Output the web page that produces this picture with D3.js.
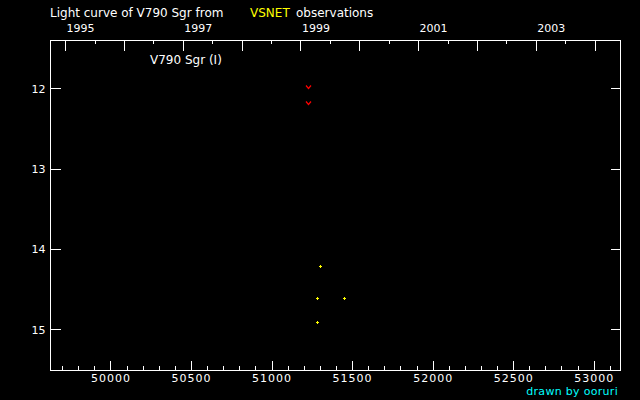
<!DOCTYPE html>
<html>
<head>
<meta charset="utf-8">
<script src="https://cdn.jsdelivr.net/npm/d3@7"></script>
<style>
  html, body { margin: 0; padding: 0; background: #000; }
  svg { display: block; }
  text { font-family: "DejaVu Sans", sans-serif; }
</style>
</head>
<body>
<svg id="chart" width="640" height="400"></svg>
<script>
// ---- data (JD - 2400000, magnitude) ----
const obsJD  = [51304, 51285, 51453, 51285];
const obsMag = [14.22, 14.61, 14.61, 14.91];
const limJD  = [51229, 51229];          // fainter-than observations
const limMag = [12.0, 12.2];
const magTicks  = [12, 13, 14, 15];
const jdMajor   = [50000, 50500, 51000, 51500, 52000, 52500, 53000];
const yearLabels = [1995, 1997, 1999, 2001, 2003];
const starName = "V790 Sgr";

const W = 640, H = 400;
const L = 50.5, R = 620.5, T = 40.5, B = 370.5;

const svg = d3.select("#chart");
svg.append("rect").attr("width", W).attr("height", H).attr("fill", "#000");

const x = d3.scaleLinear().domain([49627.5, 53166.3]).range([L, R]);
const y = d3.scaleLinear().domain([11.4025, 15.5104]).range([T, B]);
const jdToYear = jd => 2000 + (jd - 51544.5) / 365.25;
const xy = d3.scaleLinear().domain(x.domain().map(jdToYear)).range([L, R]);

const g = svg.append("g").attr("shape-rendering", "crispEdges");

// frame
g.append("rect").attr("x", L).attr("y", T).attr("width", R - L).attr("height", B - T)
  .attr("fill", "none").attr("stroke", "#fff").attr("stroke-width", 1);

function styleAxis(sel) {
  sel.select(".domain").remove();
  sel.selectAll("line").attr("stroke", "#fff");
  sel.selectAll("text").attr("fill", "#fff").attr("font-size", 11);
}

// bottom axis: minor (100 d) and major (500 d)
const minorJD = d3.range(49700, 53166, 100).filter(v => v % 500 !== 0);
g.append("g").attr("transform", `translate(0,${B})`)
  .call(d3.axisBottom(x).tickValues(minorJD).tickSize(-5).tickFormat(""))
  .call(styleAxis);
const bAx = g.append("g").attr("transform", `translate(0,${B})`)
  .call(d3.axisBottom(x).tickValues(jdMajor).tickSize(-10).tickPadding(0).tickFormat(d3.format("d")))
  .call(styleAxis);
bAx.selectAll("text").attr("dy", null).attr("y", 11).attr("letter-spacing", 1);

// top axis: years
const yrs = d3.range(1995, 2005);
const halfYrs = d3.range(1994.5, 2005, 1).filter(v => xy(v) > L && xy(v) < R);
g.append("g").attr("transform", `translate(0,${T})`)
  .call(d3.axisTop(xy).tickValues(halfYrs).tickSize(-3).tickFormat(""))
  .call(styleAxis);
g.append("g").attr("transform", `translate(0,${T})`)
  .call(d3.axisTop(xy).tickValues(yrs).tickSize(-10).tickFormat(""))
  .call(styleAxis);
const yrAx = g.append("g").attr("transform", `translate(0,${T})`)
  .call(d3.axisTop(xy).tickValues(yearLabels).tickSize(0).tickFormat(d3.format("d")))
  .call(styleAxis);
yrAx.selectAll("line").remove();
yrAx.selectAll("text").attr("text-anchor", "start").attr("dx", 1).attr("dy", null).attr("y", -8.5);

// left axis
const lAx = g.append("g").attr("transform", `translate(${L},0)`)
  .call(d3.axisLeft(y).tickValues(magTicks).tickSize(-10).tickPadding(5).tickFormat(d3.format("d")))
  .call(styleAxis);
lAx.selectAll("text").attr("dy", "0.33em");
// right axis
g.append("g").attr("transform", `translate(${R},0)`)
  .call(d3.axisRight(y).tickValues(magTicks).tickSize(-10).tickFormat(""))
  .call(styleAxis);

// titles
svg.append("text").attr("x", 50).attr("y", 17).attr("font-size", 12).attr("fill", "#fff")
  .text("Light curve of " + starName + " from");
svg.append("text").attr("x", 250).attr("y", 17).attr("font-size", 12).attr("fill", "#ffff00").text("VSNET");
svg.append("text").attr("x", 296).attr("y", 17).attr("font-size", 12).attr("fill", "#fff").text("observations");
svg.append("text").attr("x", 150).attr("y", 64).attr("font-size", 12).attr("fill", "#fff").text(starName + " (I)");
svg.append("text").attr("x", 618).attr("y", 395).attr("font-size", 11).attr("letter-spacing", 0.3)
  .attr("text-anchor", "end").attr("fill", "#00ffff").text("drawn by ooruri");

// observations
const obs = obsJD.map((d, i) => ({ jd: d, mag: obsMag[i] }));
const lim = limJD.map((d, i) => ({ jd: d, mag: limMag[i] }));

svg.append("g").attr("shape-rendering", "crispEdges").selectAll("path").data(obs).join("path")
  .attr("transform", d => `translate(${Math.floor(x(d.jd)) + 0.5},${Math.floor(y(d.mag)) + 0.5})`)
  .attr("d", "M-1.5,0H1.5M0,-1.5V1.5")
  .attr("stroke", "#ffff00").attr("stroke-width", 1).attr("fill", "none");

svg.append("g").selectAll("path").data(lim).join("path")
  .attr("transform", d => `translate(${Math.floor(x(d.jd)) + 0.5},${Math.floor(y(d.mag)) + 0.5})`)
  .attr("d", "M-2.5,-3L0,0L2.5,-3")
  .attr("stroke", "#ff0000").attr("stroke-width", 1.2).attr("fill", "none");
</script>
</body>
</html>
